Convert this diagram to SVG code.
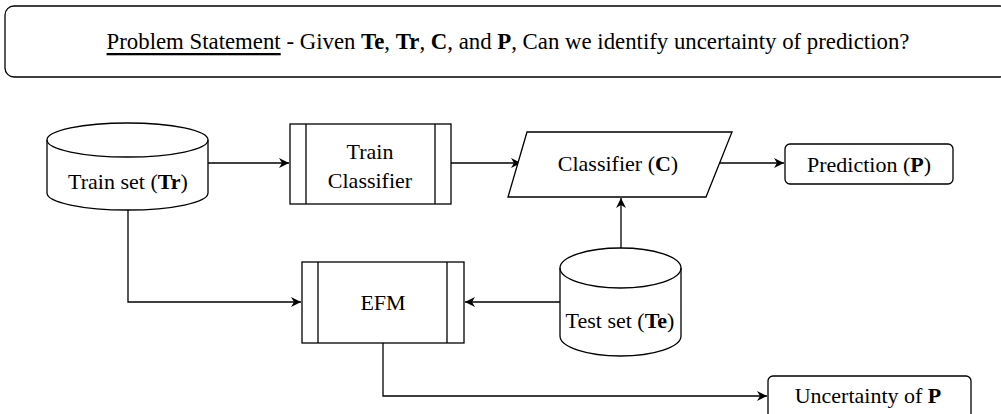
<svg xmlns="http://www.w3.org/2000/svg" width="1001" height="414" viewBox="0 0 1001 414">
<style>
.s{fill:#fff;stroke:#000;stroke-width:1.3}
.l{fill:none;stroke:#000;stroke-width:1.3}
.t{font-family:"Liberation Serif",serif;font-size:22px;fill:#000;text-anchor:middle;dominant-baseline:central}
.b{font-weight:bold}
</style>
<defs>
<marker id="a" markerUnits="userSpaceOnUse" markerWidth="12" markerHeight="12" refX="10" refY="5" orient="auto" viewBox="0 0 12 10">
<path d="M0,0 L10,5 L0,10 L3,5 Z" fill="#000"/>
</marker>
</defs>
<g id="problem">
<rect class="s" x="5" y="6" width="1004" height="71" rx="9"/>
<text class="t" x="508" y="41" style="font-size:22.8px"><tspan text-decoration="underline">Problem Statement</tspan> - Given <tspan class="b">Te</tspan>, <tspan class="b">Tr</tspan>, <tspan class="b">C</tspan>, and <tspan class="b">P</tspan>, Can we identify uncertainty of prediction?</text>
</g>
<g id="connectors">
<path class="l" d="M208,163 L289,163" marker-end="url(#a)"/>
<path class="l" d="M451,163 L521,163" marker-end="url(#a)"/>
<path class="l" d="M719,163 L784,163" marker-end="url(#a)"/>
<path class="l" d="M621,248 L621,198" marker-end="url(#a)"/>
<path class="l" d="M128,210 L128,302 L301,302" marker-end="url(#a)"/>
<path class="l" d="M560,302 L465,302" marker-end="url(#a)"/>
<path class="l" d="M383,343 L383,396 L767,396" marker-end="url(#a)"/>
</g>
<g id="trainset">
<path class="s" d="M47,140 A80.5,17 0 0 1 208,140 L208,193 A80.5,17 0 0 1 47,193 Z"/>
<path class="l" d="M47,140 A80.5,17 0 0 0 208,140"/>
<text class="t" x="128" y="181">Train set (<tspan class="b">Tr</tspan>)</text>
</g>
<g id="trainclassifier">
<rect class="s" x="290" y="124" width="161" height="80"/>
<path class="l" d="M306,124 V204 M435,124 V204"/>
<text class="t" x="370" y="151">Train</text>
<text class="t" x="370" y="180">Classifier</text>
</g>
<g id="classifier">
<path class="s" d="M527,132 L732,132 L706,197 L508,197 Z"/>
<text class="t" x="618" y="163">Classifier (<tspan class="b">C</tspan>)</text>
</g>
<g id="prediction">
<rect class="s" x="785" y="144" width="168" height="40" rx="5"/>
<text class="t" x="869" y="164">Prediction (<tspan class="b">P</tspan>)</text>
</g>
<g id="efm">
<rect class="s" x="302" y="262" width="162" height="81"/>
<path class="l" d="M318,262 V343 M447,262 V343"/>
<text class="t" x="383" y="302">EFM</text>
</g>
<g id="testset">
<path class="s" d="M560,268 A60.5,20 0 0 1 681,268 L681,336 A60.5,20 0 0 1 560,336 Z"/>
<path class="l" d="M560,268 A60.5,20 0 0 0 681,268"/>
<text class="t" x="620" y="320">Test set (<tspan class="b">Te</tspan>)</text>
</g>
<g id="uncertainty">
<rect class="s" x="768" y="376" width="203" height="44" rx="5"/>
<text class="t" x="868" y="395">Uncertainty of <tspan class="b">P</tspan></text>
</g>
</svg>
